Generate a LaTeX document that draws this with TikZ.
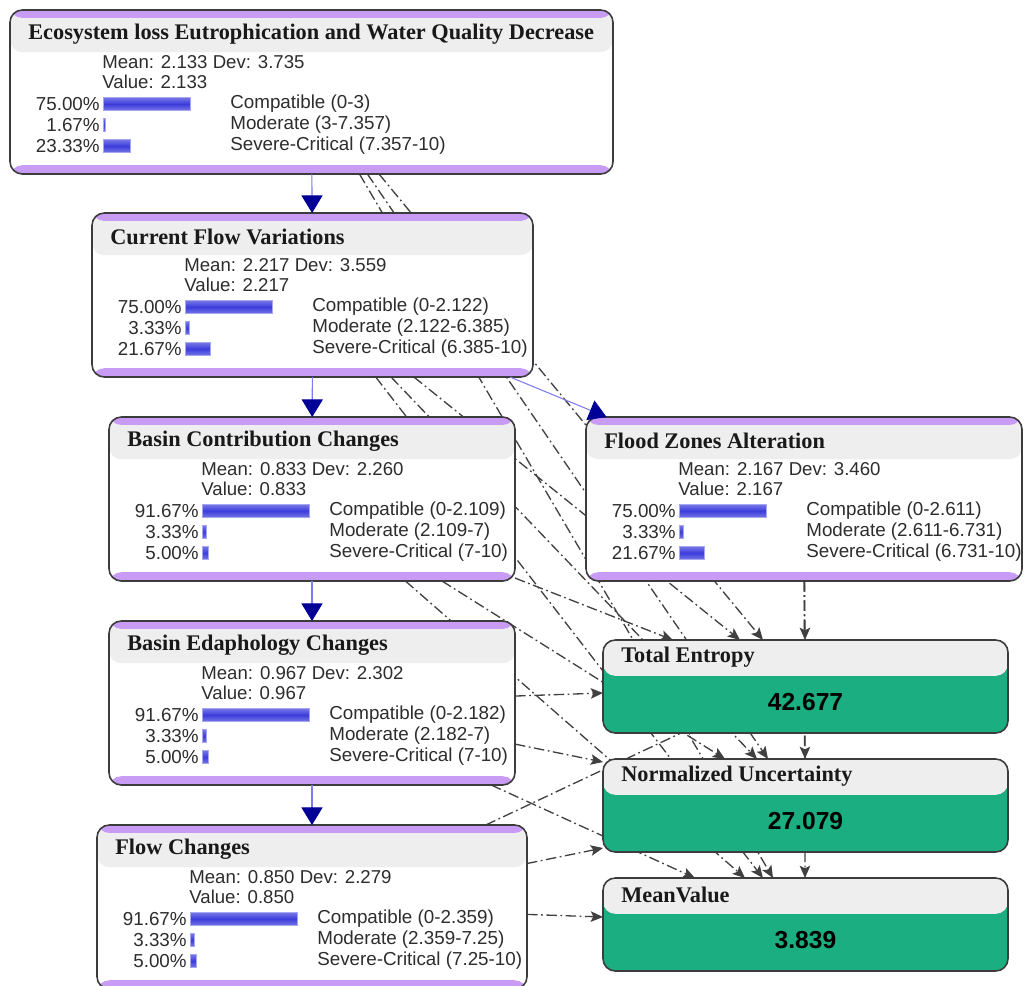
\documentclass[tikz,border=0pt]{standalone}
\usepackage{fontspec}
\setmainfont{Liberation Serif}
\setsansfont{Liberation Sans}
\usetikzlibrary{arrows.meta,calc,fit,backgrounds}

\definecolor{bnpurple}{RGB}{200,155,245}
\definecolor{bngray}{RGB}{238,238,238}
\definecolor{bngreen}{RGB}{26,174,128}
\definecolor{barblue}{RGB}{60,60,220}
\definecolor{linkblue}{RGB}{125,125,235}
\definecolor{tipnavy}{RGB}{0,0,150}
\definecolor{framegray}{RGB}{60,60,60}
\definecolor{textgray}{RGB}{45,45,45}

\tikzset{
  varbox/.style={draw=framegray, line width=0.9pt, rounded corners=7pt,
    inner sep=0pt, outer sep=0pt, fill=white,
    path picture={
      \fill[bngray] (path picture bounding box.north west) rectangle ([yshift=-24pt]path picture bounding box.north east);
      \fill[bnpurple] (path picture bounding box.north west) rectangle ([yshift=-4.5pt]path picture bounding box.north east);
      \fill[bnpurple] (path picture bounding box.south west) rectangle ([yshift=5pt]path picture bounding box.south east);
    }},
  resbox/.style={draw=framegray, line width=0.9pt, rounded corners=7pt,
    inner sep=0pt, outer sep=0pt, fill=bngreen,
    path picture={
      \fill[bngray] (path picture bounding box.north west) rectangle ([yshift=-20.4pt]path picture bounding box.north east);
    }},
  vartitle/.style={anchor=west, inner sep=0pt, text=black!90, font=\fontsize{12.7}{14}\selectfont\bfseries},
  vartext/.style={anchor=west, inner sep=0pt, text=textgray, font=\sffamily\fontsize{10.7}{13}\selectfont},
  varstats/.style={vartext, align=left, font=\sffamily\fontsize{10.6}{11.8}\selectfont},
  resvalue/.style={inner sep=0pt, font=\sffamily\fontsize{14}{16}\selectfont\bfseries},
  bar/.style={draw=barblue!45!white, line width=0.4pt, top color=barblue!70!white, bottom color=barblue!70!white, middle color=barblue},
  bnarrow/.style={draw=linkblue, line width=0.6pt, -{Triangle[length=10pt,width=12pt,color=tipnavy]}},
  ddlink/.style={draw=black!75, line width=0.75pt, dash pattern=on 6pt off 2pt on 1pt off 2pt,
    -{Stealth[length=7pt,width=6pt,inset=1.5pt]}}
}

% name, left, top, right, title, mean/dev, value, states
\newcommand{\bnvar}[8]{%
  \node[varbox, fit={(#2,#3) (#4,#3+164)}] (#1) {};
  \node[vartitle] (#1-title) at ($(#1.north west)+(18,24)$) {#5};
  \node[varstats] (#1-stats) at ($(#1.north west)+(92,62)$) {Mean: #6\\Value: #7};
  \foreach \pct/\lbl [count=\i] in {#8} {
    \pgfmathsetmacro\ry{94+21*(\i-1)}
    \pgfmathsetmacro\bw{max(\pct*1.17,2.5)}
    \node[vartext, anchor=east] (#1-p\i) at ($(#1.north west)+(90,\ry)$) {\pct\%};
    \draw[bar] ($(#1.north west)+(93,\ry-6.5)$) rectangle ++(\bw,13);
    \node[vartext] (#1-s\i) at ($(#1.north west)+(220,\ry)$) {\lbl};
  }
}

\begin{document}
\begin{tikzpicture}[x=0.02cm, y=-0.02cm]
  \useasboundingbox (0,0) rectangle (1024,985);

  \bnvar{eco}{10}{10}{613}{Ecosystem loss Eutrophication and Water Quality Decrease}{2.133 Dev: 3.735}{2.133}
    {75.00/Compatible (0-3), 1.67/Moderate (3-7.357), 23.33/Severe-Critical (7.357-10)}
  \bnvar{cfv}{92}{213}{533}{Current Flow Variations}{2.217 Dev: 3.559}{2.217}
    {75.00/Compatible (0-2.122), 3.33/Moderate (2.122-6.385), 21.67/Severe-Critical (6.385-10)}
  \bnvar{bcc}{109}{417}{515}{Basin Contribution Changes}{0.833 Dev: 2.260}{0.833}
    {91.67/Compatible (0-2.109), 3.33/Moderate (2.109-7), 5.00/Severe-Critical (7-10)}
  \bnvar{bec}{109}{621}{515}{Basin Edaphology Changes}{0.967 Dev: 2.302}{0.967}
    {91.67/Compatible (0-2.182), 3.33/Moderate (2.182-7), 5.00/Severe-Critical (7-10)}
  \bnvar{fch}{97}{825}{527}{Flow Changes}{0.850 Dev: 2.279}{0.850}
    {91.67/Compatible (0-2.359), 3.33/Moderate (2.359-7.25), 5.00/Severe-Critical (7.25-10)}
  \bnvar{fza}{586}{417}{1022}{Flood Zones Alteration}{2.167 Dev: 3.460}{2.167}
    {75.00/Compatible (0-2.611), 3.33/Moderate (2.611-6.731), 21.67/Severe-Critical (6.731-10)}

  % result nodes
  \node[resbox, fit={(603,640) (1008,733)}] (ten) {};
  \node[vartitle] (ten-title) at ($(ten.north west)+(18,17)$) {Total Entropy};
  \node[resvalue] (ten-value) at ($(ten.north)+(0,62)$) {42.677};
  \node[resbox, fit={(603,759) (1008,852)}] (nun) {};
  \node[vartitle] (nun-title) at ($(nun.north west)+(18,17)$) {Normalized Uncertainty};
  \node[resvalue] (nun-value) at ($(nun.north)+(0,62)$) {27.079};
  \node[resbox, fit={(603,878) (1008,971)}] (mva) {};
  \node[vartitle] (mva-title) at ($(mva.north west)+(18,17)$) {MeanValue};
  \node[resvalue] (mva-value) at ($(mva.north)+(0,62)$) {3.839};

  % causal links
  \draw[bnarrow] (eco) -- (cfv);
  \draw[bnarrow] (cfv) -- (bcc);
  \draw[bnarrow] (cfv) -- (fza);
  \draw[bnarrow] (bcc) -- (bec);
  \draw[bnarrow] (bec) -- (fch);

  % links to the result nodes, behind everything
  \begin{pgfonlayer}{background}
    \foreach \src/\dst/\dx/\dy in {eco/ten/160/0, cfv/ten/137/0, bcc/ten/70/0, fza/ten/202/0,
        bec/ten/0/53, fch/ten/95/85,
        eco/nun/165/0, cfv/nun/154/0, bcc/nun/122/0, fza/nun/202/0, bec/nun/0/3, fch/nun/0/89,
        eco/mva/170/0, cfv/mva/160/0, bcc/mva/142/0, bec/mva/92/0, fza/mva/202/0, fch/mva/0/39}
      \draw[ddlink] (\src) -- ($(\dst.north west)+(\dx,\dy)$);
  \end{pgfonlayer}
\end{tikzpicture}
\end{document}
